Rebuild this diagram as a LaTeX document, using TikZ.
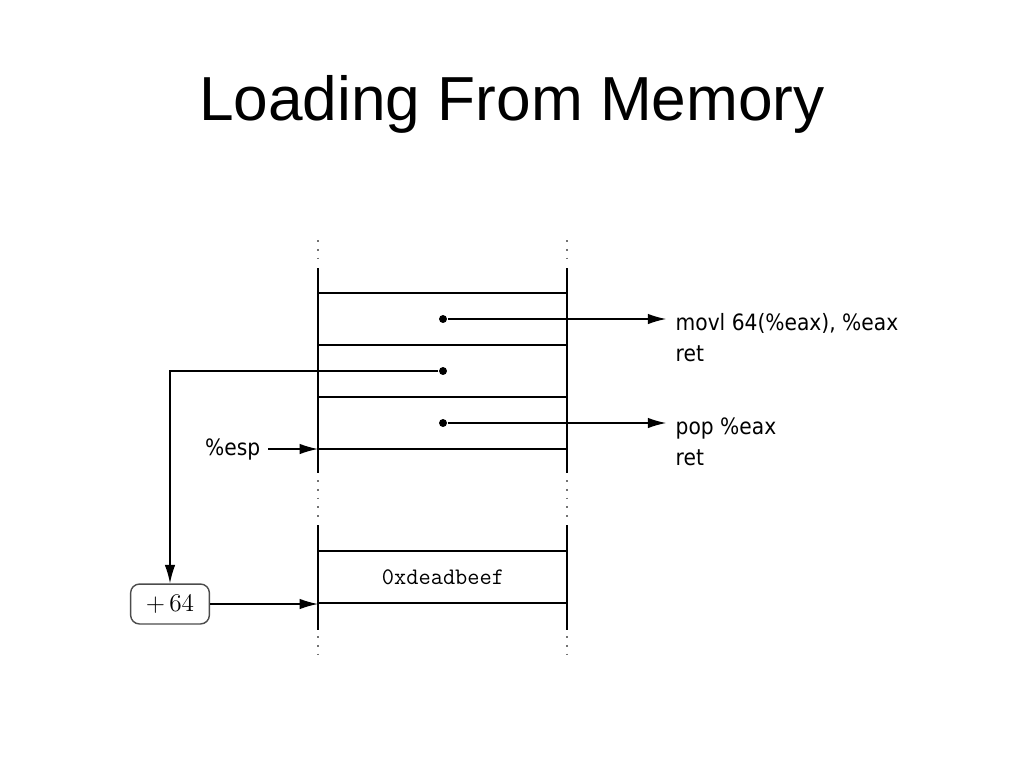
\documentclass[tikz,border=0pt]{standalone}
\usepackage{fontspec}
\setmainfont{Liberation Sans}
\newfontfamily\asmfont{DejaVu Sans Condensed}
\usetikzlibrary{arrows.meta,positioning}

\begin{document}
\begin{tikzpicture}[x=0.02cm,y=-0.02cm,line width=0.8pt,
  ptr/.style={-{Latex[length=10.5pt,width=6pt]}},
  cell/.style={circle,fill,inner sep=1.6pt},
  gap/.style={black!55,dash pattern=on 1pt off 4pt},
  asm/.style={font=\asmfont\fontsize{12.8}{15}\selectfont,inner sep=0pt,anchor=base west},
  offbox/.style={draw=black!70,rounded corners=5pt,minimum width=44.8pt,minimum height=22.7pt,
    font=\fontsize{15.5}{18}\selectfont}]
  \useasboundingbox (0,0) rectangle (1024,768);
  \node[font=\fontsize{35.4}{40}\selectfont,anchor=base] (title) at (512,120) {Loading From Memory};
  % stack walls and cells
  \foreach \x in {318,567}{
    \draw[gap] (\x,240) -- (\x,264);
    \draw (\x,268) -- (\x,473);
    \draw[gap] (\x,480) -- (\x,522);
    \draw (\x,525) -- (\x,630);
    \draw[gap] (\x,636) -- (\x,660);
  }
  \foreach \y in {293,345,397,449,551,603}
    \draw (318,\y) -- (567,\y);
  \foreach \n/\y in {a/319,b/371,c/423}{
    \node[cell] (d\n) at (443,\y) {};
  }
  % gadgets
  \node[asm] (movl) at (675,330) {movl 64(\%eax), \%eax};
  \node[asm] (reta) at (675,361) {ret};
  \node[asm] (pop) at (675,434) {pop \%eax};
  \node[asm] (retc) at (675,465) {ret};
  \draw[ptr,shorten >=5pt] (da) -- (da -| movl.west);
  \draw[ptr,shorten >=5pt] (dc) -- (dc -| pop.west);
  % stack pointer
  \node[asm,anchor=east,inner sep=4pt] (esp) at (268,449) {\%esp};
  \coordinate (top) at (318,449);
  \draw[ptr] (esp) -- (top);
  % offset
  \node[offbox] (off) at (170,604) {$+\,64$};
  \coordinate (ea) at (318,604);
  \draw[ptr] (db) -| (off.north);
  \draw[ptr] (off) -- (ea);
  \node[font=\ttfamily\fontsize{13.5}{16}\selectfont] (val) at (443,577) {0xdeadbeef};
\end{tikzpicture}
\end{document}
